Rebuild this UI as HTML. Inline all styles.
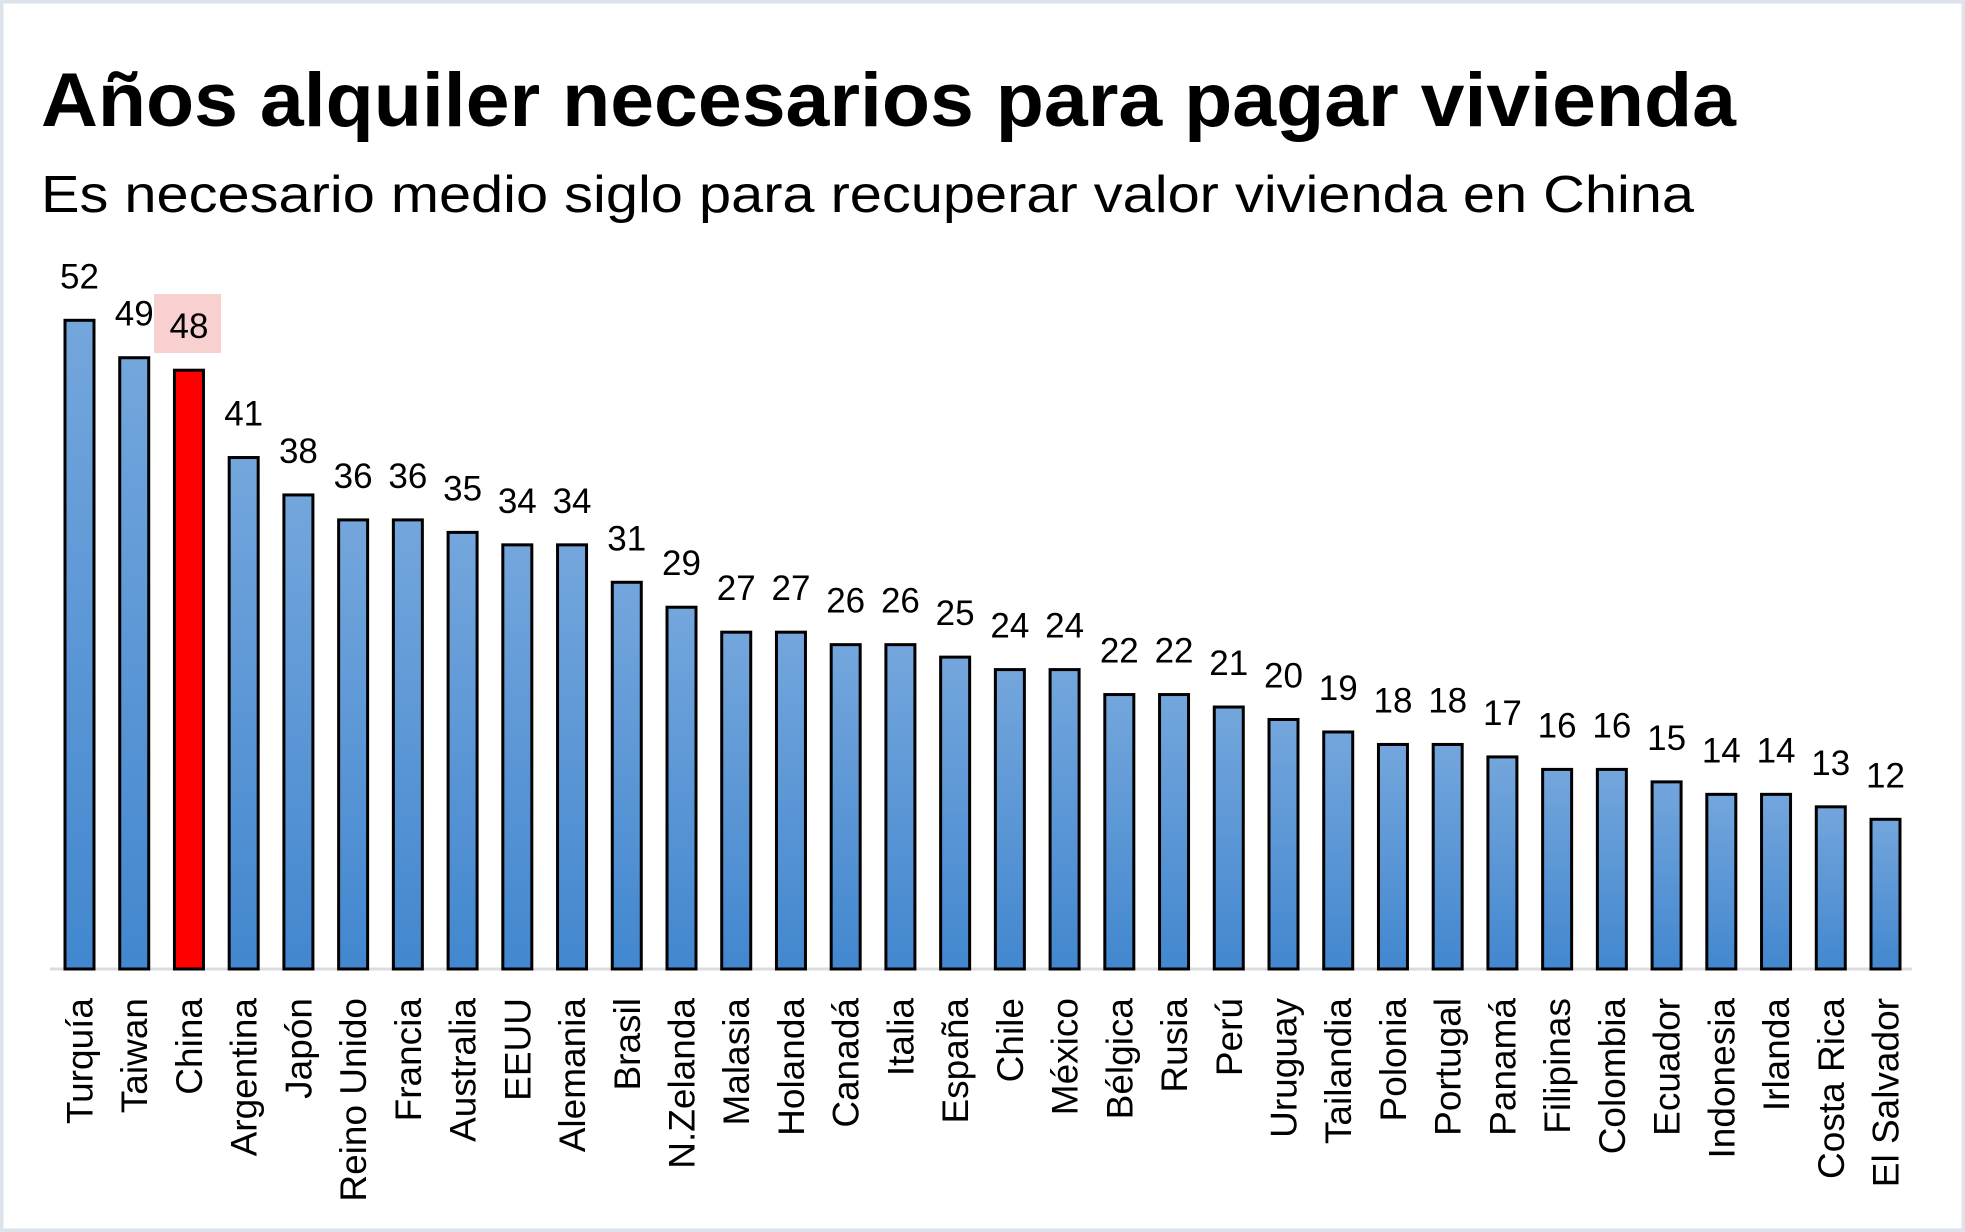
<!DOCTYPE html>
<html><head><meta charset="utf-8"><style>
html,body{margin:0;padding:0;background:#fff;}
svg{display:block;font-family:"Liberation Sans",sans-serif;}
</style></head><body>
<svg id="chart" width="1965" height="1232" viewBox="0 0 1965 1232" xmlns="http://www.w3.org/2000/svg">
<defs><linearGradient id="bg" x1="0" y1="0" x2="0" y2="1"><stop offset="0" stop-color="#74a6dc"/><stop offset="1" stop-color="#4287cf"/></linearGradient></defs>
<rect x="1.5" y="1.5" width="1962" height="1229" fill="#fff" stroke="#dde3ea" stroke-width="4"/>
<text x="41" y="126" font-size="76" font-weight="bold" textLength="1695" lengthAdjust="spacingAndGlyphs">Años alquiler necesarios para pagar vivienda</text>
<text x="41" y="212" font-size="52" textLength="1653" lengthAdjust="spacingAndGlyphs">Es necesario medio siglo para recuperar valor vivienda en China</text>
<rect x="154" y="294" width="67" height="59" fill="#f9d0d0"/>
<line x1="50" y1="969" x2="1912" y2="969" stroke="#d9dde2" stroke-width="3"/>
<g id="bars"></g>
</svg>
<script>
const categories=["Turquía","Taiwan","China","Argentina","Japón","Reino Unido","Francia","Australia","EEUU","Alemania","Brasil","N.Zelanda","Malasia","Holanda","Canadá","Italia","España","Chile","México","Bélgica","Rusia","Perú","Uruguay","Tailandia","Polonia","Portugal","Panamá","Filipinas","Colombia","Ecuador","Indonesia","Irlanda","Costa Rica","El Salvador"];
const values=[52,49,48,41,38,36,36,35,34,34,31,29,27,27,26,26,25,24,24,22,22,21,20,19,18,18,17,16,16,15,14,14,13,12];
const highlight="China";
const NS="http://www.w3.org/2000/svg";
const g=document.getElementById('bars');
const x0=65,step=(1871-65)/33,bw=29,base=969,unit=12.475;
const xs=i=>x0+i*step;
const ys=v=>base-v*unit;
categories.forEach((c,i)=>{
  const x=xs(i),y=ys(values[i]);
  const r=document.createElementNS(NS,'rect');
  r.setAttribute('x',x);r.setAttribute('y',y);r.setAttribute('width',bw);r.setAttribute('height',base-y);
  r.setAttribute('fill',c===highlight?'#ff0000':'url(#bg)');r.setAttribute('stroke','#000');r.setAttribute('stroke-width','3');
  
  
  g.appendChild(r);
  const t=document.createElementNS(NS,'text');
  t.setAttribute('x',x+bw/2);t.setAttribute('y',y-32);t.setAttribute('text-anchor','middle');t.setAttribute('font-size','35');
  t.textContent=values[i];
  
  
  g.appendChild(t);
  const l=document.createElementNS(NS,'text');
  const cx=x+bw/2+13,cy=998;
  l.setAttribute('x',cx);l.setAttribute('y',cy);l.setAttribute('text-anchor','end');l.setAttribute('font-size','37');
  l.setAttribute('transform','rotate(-90 '+cx+' '+cy+')');
  l.textContent=c;
  
  
  g.appendChild(l);
});
</script>
</body></html>
